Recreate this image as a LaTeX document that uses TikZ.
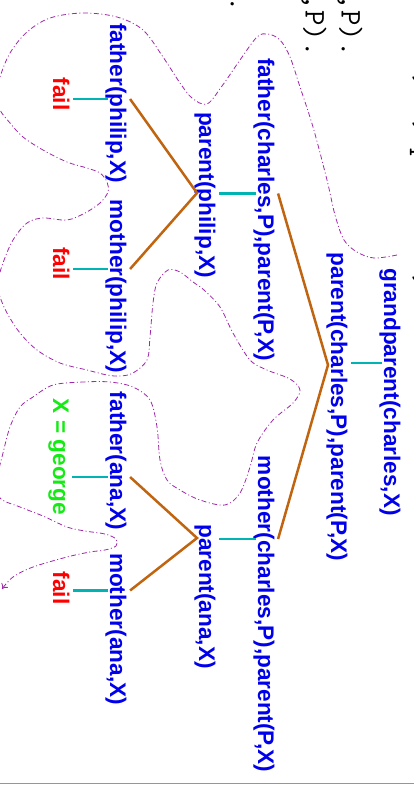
\documentclass[tikz,border=0pt]{standalone}
\usepackage{fontspec}
\setsansfont{Liberation Sans}
\usetikzlibrary{calc,arrows.meta}

\definecolor{goalblue}{RGB}{0,0,235}
\definecolor{failred}{RGB}{255,0,0}
\definecolor{answergreen}{RGB}{20,235,20}
\definecolor{stemcyan}{RGB}{0,180,180}
\definecolor{branchbrown}{RGB}{192,100,16}
\definecolor{trailpurple}{RGB}{160,40,170}
\definecolor{rulegray}{RGB}{150,150,150}

\begin{document}
\begin{tikzpicture}[x=1pt,y=-1pt,
  goal/.style={font=\sffamily\bfseries\fontsize{22.6}{26}\selectfont,
    text=goalblue, rotate=-90, anchor=base, inner xsep=0pt, inner ysep=3.5pt},
  failnode/.style={goal, text=failred},
  answer/.style={goal, text=answergreen},
  stem/.style={draw=stemcyan, line width=2.5pt},
  branch/.style={draw=branchbrown, line width=2.5pt},
  trail/.style={draw=trailpurple, line width=0.8pt,
    dash pattern=on 5pt off 2.5pt on 1pt off 2.5pt, -{To[length=5pt,width=8pt]}},
  code/.style={font=\ttfamily\fontsize{30}{36}\selectfont, rotate=-90,
    anchor=base east, inner sep=0pt}
]
\useasboundingbox (0,0) rectangle (414,785);
\clip (0,0) rectangle (414,785);

% program text (runs off the top edge)
\node[code] (r1) at (416.5,334) {grandparent(X,Y) :- parent(X,P), parent(P,Y).};
\node[code] (c1) at (341.5,57)  {parent(X,P) :- father(X,P).};
\node[code] (c2) at (305.5,57)  {parent(X,P) :- mother(X,P).};
\node[code] (c3) at (230.5,12)  {father(ana,george).};

% search tree goals
\node[goal] (gp) at (384,392)   {grandparent(charles,X)};
\node[goal] (pc) at (331,407)   {parent(charles,P),parent(P,X)};
\node[goal] (fc) at (258,209.5) {father(charles,P),parent(P,X)};
\node[goal] (mc) at (258,614)   {mother(charles,P),parent(P,X)};
\node[goal] (pp) at (199,195)   {parent(philip,X)};
\node[goal] (pa) at (199,596.5) {parent(ana,X)};
\node[goal] (fp) at (110,103)   {father(philip,X)};
\node[goal] (mp) at (110,286.5) {mother(philip,X)};
\node[goal] (fa) at (110,461)   {father(ana,X)};
\node[goal] (ma) at (110,629)   {mother(ana,X)};
\node[failnode] (f1) at (53,94)    {fail};
\node[failnode] (f2) at (53,263.5) {fail};
\node[answer]   (xg) at (53,457)   {X = george};
\node[failnode] (f3) at (53,588)   {fail};

% attachment points on the baseline side of each goal
\path (gp.base) ++(-2,-29)   coordinate (gp-s);
\path (pc.base) ++(-3,-42)   coordinate (pc-s);
\path (fc.base) ++(-2,-16)   coordinate (fc-s);
\path (mc.base) ++(-2,-75)   coordinate (mc-s);
\path (pp.base) ++(-2,-2)    coordinate (pp-s);
\path (pa.base) ++(-2,-58.5) coordinate (pa-s);
\path (fp.base) ++(-2,-4)    coordinate (fp-s);
\path (mp.base) ++(-2,-17.5) coordinate (mp-s);
\path (fa.base) ++(-2,16)    coordinate (fa-s);
\path (ma.base) ++(-2,-38.5) coordinate (ma-s);

% single-child steps
\draw[stem] (gp-s) -- (pc.north |- gp-s);
\draw[stem] (fc-s) -- (pp.north |- fc-s);
\draw[stem] (mc-s) -- (pa.north |- mc-s);
\draw[stem] (fp-s) -- (f1.north |- fp-s);
\draw[stem] (mp-s) -- (f2.north |- mp-s);
\draw[stem] (fa-s) -- (xg.north |- fa-s);
\draw[stem] (ma-s) -- (f3.north |- ma-s);

% alternatives
\draw[branch] (fc.north |- fc-s) -- (pc-s) -- (mc.north |- mc-s);
\draw[branch] (fp.north |- fp-s) -- (pp-s) -- (mp.north |- mp-s);
\draw[branch] (fa.north |- fa-s) -- (pa-s) -- (ma.north |- ma-s);

% trail of the search
\draw[trail] plot[smooth, tension=0.55] coordinates {
  (397,255) (374,258) (357,252) (344,240) (335,215) (327,180) (313,127)
  (300,87) (290,57) (280,40) (268,34) (257,37) (240,60) (222,86) (207,104)
  (192,98) (180,83) (163,57) (143,30) (117,17) (83,13) (50,18) (27,32)
  (10,53) (0,77) (-4,95) (0,110) (10,123) (23,137) (43,150) (67,162)
  (87,168) (100,173) (107,182) (108,192) (100,203) (85,213) (67,220)
  (43,218) (27,223) (13,240) (3,263) (-3,285) (0,297) (7,313) (20,333)
  (37,350) (60,363) (87,370) (107,375) (120,376) (133,373) (147,360)
  (150,337) (153,303) (157,283) (168,270) (180,272) (193,282) (204,290)
  (220,307) (233,333) (250,360) (267,370) (290,379) (300,390) (293,403)
  (273,420) (257,443) (250,467) (240,493) (225,505) (200,500) (180,490)
  (167,480) (160,460) (157,427) (150,400) (133,387) (110,382) (83,382)
  (53,385) (33,397) (20,407) (10,427) (3,453) (-3,480) (0,498) (20,507)
  (43,516) (67,527) (85,531) (105,534) (116,539) (116,546) (105,550)
  (90,552) (67,557) (33,567) (13,577) (2,589)};

% frame edge
\draw[rulegray, line width=1pt] (0,783.5) -- (414,783.5);
\end{tikzpicture}
\end{document}
